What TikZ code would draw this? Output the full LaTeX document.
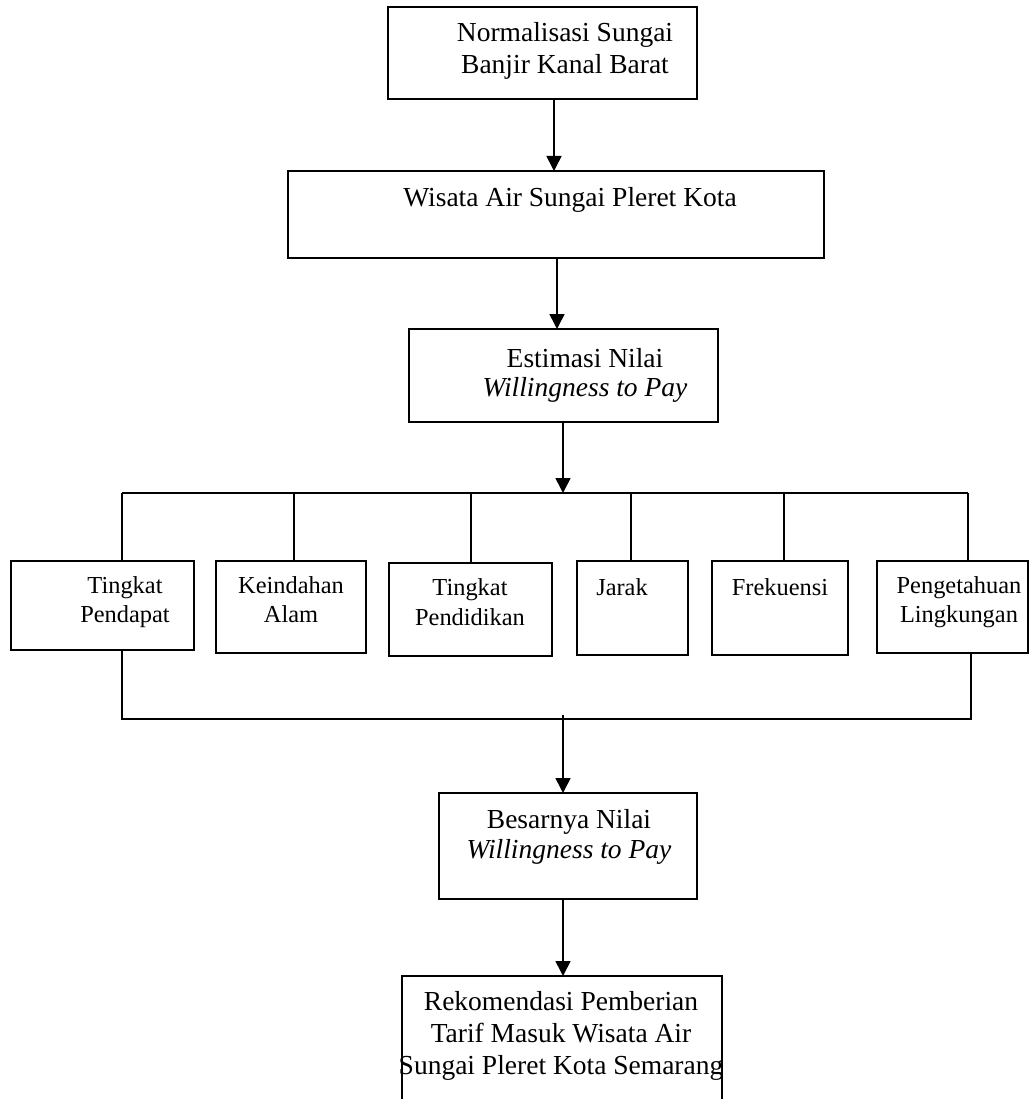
\documentclass[tikz,border=0pt]{standalone}
\usepackage{fontspec}
\setmainfont{Liberation Serif}
\usetikzlibrary{arrows.meta,fit}
\begin{document}
\begin{tikzpicture}[x=1pt,y=-1pt,
  box/.style={draw, line width=1.6pt, inner sep=0pt, outer sep=0pt},
  conn/.style={line width=1.6pt},
  arr/.style={line width=1.6pt, -{Triangle[width=15pt,length=15pt]}},
  bigtxt/.style={anchor=base, inner sep=0pt, font=\fontsize{27.5}{31}\selectfont},
  smalltxt/.style={anchor=base, inner sep=0pt, font=\fontsize{24.4}{28}\selectfont}]
\useasboundingbox (0,0) rectangle (1034,1099);
% boxes
\node[box, fit={(388,7) (697,99)}] (b1) {};
\node[box, fit={(288,171) (824,258)}] (b2) {};
\node[box, fit={(409,329) (718,422)}] (b3) {};
\node[box, fit={(11,561) (194,650)}] (c1) {};
\node[box, fit={(216,561) (366,653)}] (c2) {};
\node[box, fit={(389,563) (552,656)}] (c3) {};
\node[box, fit={(577,561) (688,655)}] (c4) {};
\node[box, fit={(712,561) (848,655)}] (c5) {};
\node[box, fit={(877,561) (1028,653)}] (c6) {};
\node[box, fit={(439,793) (697,899)}] (b4) {};
\node[box, fit={(402,976) (722,1102)}] (b5) {};
% texts
\node[bigtxt] (t1a) at (565,42) {Normalisasi Sungai};
\node[bigtxt] (t1b) at (565,74) {Banjir Kanal Barat};
\node[bigtxt] (t2a) at (570,207) {Wisata Air Sungai Pleret Kota};
\node[bigtxt] (t3a) at (585,367) {Estimasi Nilai};
\node[bigtxt] (t3b) at (585,396) {\itshape Willingness to Pay};
\node[smalltxt] (tc1a) at (125,593) {Tingkat};
\node[smalltxt] (tc1b) at (125,622) {Pendapat};
\node[smalltxt] (tc2a) at (291,593) {Keindahan};
\node[smalltxt] (tc2b) at (291,622) {Alam};
\node[smalltxt] (tc3a) at (470,595) {Tingkat};
\node[smalltxt] (tc3b) at (470,625) {Pendidikan};
\node[smalltxt] (tc4a) at (622,595) {Jarak};
\node[smalltxt] (tc5a) at (780,595) {Frekuensi};
\node[smalltxt] (tc6a) at (959,593) {Pengetahuan};
\node[smalltxt] (tc6b) at (959,622) {Lingkungan};
\node[bigtxt] (t4a) at (569,828) {Besarnya Nilai};
\node[bigtxt] (t4b) at (569,858) {\itshape Willingness to Pay};
\node[bigtxt] (t5a) at (561,1010) {Rekomendasi Pemberian};
\node[bigtxt] (t5b) at (561,1042) {Tarif Masuk Wisata Air};
\node[bigtxt] (t5c) at (561,1074) {Sungai Pleret Kota Semarang};
% bus coordinates
\coordinate (s1) at (122,493);
\coordinate (s2) at (294,493);
\coordinate (s3) at (471,493);
\coordinate (s4) at (631,493);
\coordinate (s5) at (784,493);
\coordinate (s6) at (968,493);
\coordinate (m3) at (563,493);
\coordinate (u1) at (122,719);
\coordinate (u6) at (971,719);
\coordinate (um) at (563,715);
% connectors
\draw[arr] (554,0 |- b1.south) -- (554,0 |- b2.north);
\draw[arr] (557,0 |- b2.south) -- (557,0 |- b3.north);
\draw[arr] (m3 |- b3.south) -- (m3);
\draw[conn] (s1) -- (s6);
\foreach \s/\c in {s1/c1,s2/c2,s3/c3,s4/c4,s5/c5,s6/c6}
  \draw[conn] (\s) -- (\s |- \c.north);
\draw[conn] (u1 |- c1.south) -- (u1) -- (u6) -- (u6 |- c6.south);
\draw[arr] (um) -- (um |- b4.north);
\draw[arr] (um |- b4.south) -- (um |- b5.north);
\end{tikzpicture}
\end{document}
